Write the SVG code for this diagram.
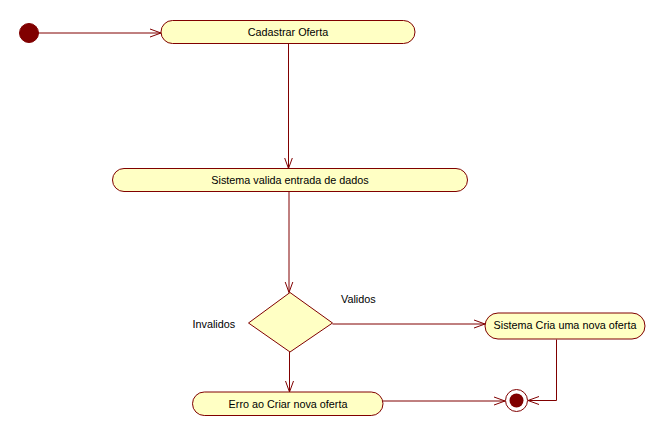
<svg xmlns="http://www.w3.org/2000/svg" width="666" height="436" viewBox="0 0 666 436">
<style>
.n{fill:#ffffc4;stroke:#800000;stroke-width:1}
.c{fill:none;stroke:#800000;stroke-width:1}
.t{font-family:"Liberation Sans",Arial,sans-serif;font-size:10.8px;fill:#000;text-anchor:middle;dominant-baseline:central}
.l{font-family:"Liberation Sans",Arial,sans-serif;font-size:10.8px;fill:#000;dominant-baseline:central}
</style>
<defs>
<marker id="a" markerWidth="12" markerHeight="10" refX="11" refY="5" orient="auto" markerUnits="userSpaceOnUse">
<path d="M0,1 L11,5 L0,9" fill="none" stroke="#800000" stroke-width="1"/>
</marker>
</defs>
<rect width="666" height="436" fill="#fff"/>
<g id="connectors">
<path class="c" d="M38,33 H161" marker-end="url(#a)"/>
<path class="c" d="M288.5,44 V168.5" marker-end="url(#a)"/>
<path class="c" d="M289,191.5 V292.5" marker-end="url(#a)"/>
<path class="c" d="M332.5,324 H485" marker-end="url(#a)"/>
<path class="c" d="M289.5,352 V392" marker-end="url(#a)"/>
<path class="c" d="M383,401 H505" marker-end="url(#a)"/>
<path class="c" d="M556.5,339.5 V400.5 H528" marker-end="url(#a)"/>
</g>
<g id="start"><circle cx="29" cy="33" r="9.5" fill="#800000" stroke="#800000"/></g>
<g id="cadastrar"><rect class="n" x="161" y="20.5" width="254" height="23" rx="11.5"/><text class="t" x="288" y="32">Cadastrar Oferta</text></g>
<g id="valida"><rect class="n" x="112.5" y="168.5" width="355" height="23" rx="11.5"/><text class="t" x="290" y="180">Sistema valida entrada de dados</text></g>
<g id="decisao"><polygon class="n" points="290,292.5 332.5,323 290,352 248.5,323"/></g>
<g id="labels">
<text class="l" x="341" y="299">Validos</text>
<text class="l" x="192.5" y="324">Invalidos</text>
</g>
<g id="cria"><rect class="n" x="485" y="313" width="160" height="26" rx="13"/><text class="t" x="565" y="325">Sistema Cria uma nova oferta</text></g>
<g id="erro"><rect class="n" x="192.5" y="392" width="190.5" height="23.5" rx="11.75"/><text class="t" x="288" y="404">Erro ao Criar nova oferta</text></g>
<g id="fim"><circle cx="516.5" cy="400.5" r="11" fill="#fff" stroke="#800000"/><circle cx="516.5" cy="400.5" r="7" fill="#800000"/></g>
</svg>
